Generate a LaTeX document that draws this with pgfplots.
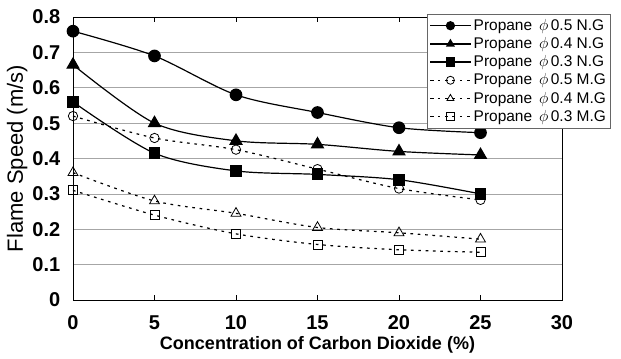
\documentclass[border=0pt]{standalone}
\usepackage{fontspec}
\setmainfont{Liberation Sans}
\usepackage{pgfplots}
\pgfplotsset{compat=1.18}
\begin{document}
\begin{tikzpicture}
\begin{axis}[
  scale only axis, width=366.75pt, height=212.25pt,
  at={(0,0)}, anchor=south west,
  xmin=0, xmax=30, ymin=0, ymax=0.8,
  xtick={0,5,...,30}, ytick={0,0.1,...,0.8},
  yticklabel style={/pgf/number format/fixed,/pgf/number format/precision=1},
  /pgf/number format/assume math mode=true,
  tick label style={font=\fontsize{15}{16}\selectfont\bfseries},
  ytick style={draw=none},
  xtick style={black, thin},
  tick align=inside,
  major tick length=4pt,
  xticklabel style={yshift=-8pt},
  yticklabel style={xshift=-6pt},
  ymajorgrids, grid style={gray!70, line width=0.5pt},
  axis line style={black, line width=0.6pt},
  xlabel={Concentration of Carbon Dioxide (\%)},
  ylabel={Flame Speed (m/s)},
  xlabel style={font=\fontsize{13.5}{15}\selectfont\bfseries, yshift=2pt},
  ylabel style={font=\fontsize{16.5}{18}\selectfont, yshift=-3pt},
  legend style={at={(1.1,1.01)}, anchor=north east, draw=gray!80!black, line width=0.5pt,
    font=\fontsize{11.6}{12}\selectfont, row sep=-0.2pt, inner sep=1.5pt,
    legend cell align=left},
  legend image code/.code={\draw[mark repeat=2,mark phase=2,#1,mark size=3pt] plot coordinates {(0pt,0pt)(15pt,0pt)(30pt,0pt)};},
]
\addplot[black, line width=0.9pt, smooth, tension=0.5, mark=*, mark size=4.3pt] coordinates {(0,0.76) (5,0.69) (10,0.58) (15,0.53) (20,0.487) (25,0.473)};
\addlegendentry{Propane \,$\phi$\,0.5 N.G}
\addplot[black, line width=0.9pt, smooth, tension=0.5, mark=triangle*, mark size=5pt] coordinates {(0,0.665) (5,0.50) (10,0.45) (15,0.44) (20,0.42) (25,0.41)};
\addlegendentry{Propane \,$\phi$\,0.4 N.G}
\addplot[black, line width=0.9pt, smooth, tension=0.5, mark=square*, mark size=4pt] coordinates {(0,0.56) (5,0.415) (10,0.365) (15,0.355) (20,0.34) (25,0.30)};
\addlegendentry{Propane \,$\phi$\,0.3 N.G}
\addplot[black, line width=0.9pt, dash pattern=on 2pt off 3.5pt, smooth, tension=0.5, mark=o, mark size=3.5pt, mark options={solid, line width=0.6pt}] coordinates {(0,0.52) (5,0.458) (10,0.425) (15,0.37) (20,0.315) (25,0.283)};
\addlegendentry{Propane \,$\phi$\,0.5 M.G}
\addplot[black, line width=0.9pt, dash pattern=on 2pt off 3.5pt, smooth, tension=0.5, mark=triangle, mark size=4.3pt, mark options={solid, line width=0.6pt}] coordinates {(0,0.36) (5,0.28) (10,0.245) (15,0.205) (20,0.19) (25,0.172)};
\addlegendentry{Propane \,$\phi$\,0.4 M.G}
\addplot[black, line width=0.9pt, dash pattern=on 2pt off 3.5pt, smooth, tension=0.5, mark=square, mark size=3.4pt, mark options={solid, line width=0.6pt}] coordinates {(0,0.31) (5,0.24) (10,0.187) (15,0.157) (20,0.142) (25,0.135)};
\addlegendentry{Propane \,$\phi$\,0.3 M.G}
\end{axis}
\useasboundingbox (-54.75pt,-43.5pt) rectangle (411pt,225pt);
\end{tikzpicture}
\end{document}
